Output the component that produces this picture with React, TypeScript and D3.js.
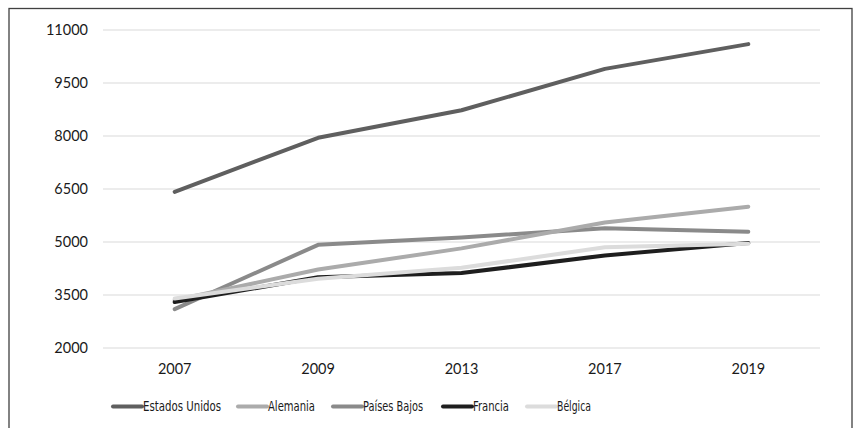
import React from "react";
import * as d3 from "d3";

const years = ["2007", "2009", "2013", "2017", "2019"];
const yTicks = [2000, 3500, 5000, 6500, 8000, 9500, 11000];

const estadosUnidos = [6420, 7950, 8730, 9900, 10600];
const alemania = [3350, 4220, 4820, 5550, 6000];
const paisesBajos = [3100, 4920, 5130, 5390, 5290];
const francia = [3300, 4000, 4120, 4620, 4970];
const belgica = [3400, 3960, 4270, 4850, 4950];

const seriesNames = ["Estados Unidos", "Alemania", "Países Bajos", "Francia", "Bélgica"];
const seriesColors = ["#5f5f5f", "#ababab", "#8a8a8a", "#1e1e1e", "#dcdcdc"];
const seriesValues = [estadosUnidos, alemania, paisesBajos, francia, belgica];
const drawOrder = [0, 2, 1, 3, 4];

const W = 854;
const H = 428;
const left = 103;
const right = 820;
const top = 30;
const bottom = 348;
const tickFont = "Lato, 'Open Sans', sans-serif";
const legendFont = "'DejaVu Sans Condensed', Lato, sans-serif";

export default function App() {
  const x = d3.scaleBand<string>().domain(years).range([left, right]);
  const y = d3.scaleLinear().domain([2000, 11000]).range([bottom, top]);
  const line = d3
    .line<number>()
    .x((_, i) => (x(years[i]) as number) + x.bandwidth() / 2)
    .y((d) => y(d));

  const legendX = [113, 238, 333, 443, 527];
  const legendTextW = [78, 47, 60, 36, 34];
  const legendY = 406.5;

  return (
    <svg
      width={W}
      height={H}
      style={{ position: "absolute", left: 0, top: 0, background: "#fff" }}
    >
      <rect x={0} y={0} width={W} height={H} fill="#fff" />
      <rect x={9} y={8.5} width={843} height={440} fill="none" stroke="#404040" strokeWidth={1.3} />
      {yTicks.map((t) => (
        <g key={t}>
          <line x1={left} x2={right} y1={y(t)} y2={y(t)} stroke="#d9d9d9" strokeWidth={1} />
          <text
            x={88}
            y={y(t)}
            dy="0.36em"
            textAnchor="end"
            fontFamily={tickFont}
            fontSize={14.5}
            fill="#1a1a1a"
          >
            {t}
          </text>
        </g>
      ))}
      {years.map((yr) => (
        <text
          key={yr}
          x={(x(yr) as number) + x.bandwidth() / 2}
          y={374}
          textAnchor="middle"
          fontFamily={tickFont}
          fontSize={14.5}
          fill="#1a1a1a"
        >
          {yr}
        </text>
      ))}
      {drawOrder.map((i) => (
        <path
          key={seriesNames[i]}
          d={line(seriesValues[i]) || ""}
          fill="none"
          stroke={seriesColors[i]}
          strokeWidth={4}
          strokeLinecap="round"
          strokeLinejoin="round"
        />
      ))}
      {seriesNames.map((n, i) => (
        <g key={n}>
          <line
            x1={legendX[i]}
            x2={legendX[i] + 29}
            y1={legendY}
            y2={legendY}
            stroke={seriesColors[i]}
            strokeWidth={4}
            strokeLinecap="round"
          />
          <text
            x={legendX[i] + 30}
            y={legendY}
            dy="0.36em"
            fontFamily={legendFont}
            fontSize={13.5}
            fill="#1a1a1a"
            textLength={legendTextW[i]}
            lengthAdjust="spacingAndGlyphs"
          >
            {n}
          </text>
        </g>
      ))}
    </svg>
  );
}
